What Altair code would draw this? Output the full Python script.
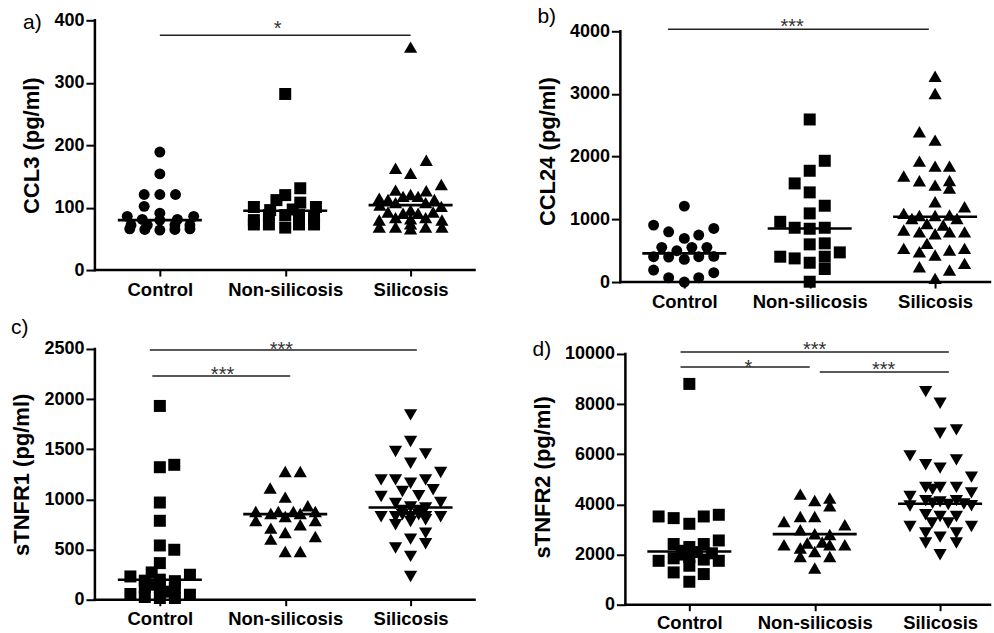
import json
import altair as alt
import pandas as pd

groups = ["Control", "Non-silicosis", "Silicosis"]

# ---------------- Panel a: CCL3 ----------------
a_ctrl_x = [0, 0, -0.125, 0, 0.125, -0.125, 0, -0.26, 0.27, -0.14, 0, 0.14, -0.23, -0.1, 0.12, 0.24, -0.24, -0.12, 0, 0.12, 0.24]
a_ctrl_y = [189, 154, 121, 121, 121, 102, 91, 86, 86, 81, 80, 81, 72, 72, 72, 72, 66, 65, 64, 65, 66]
a_non_x = [0, 0.12, 0, -0.07, 0.12, -0.25, 0.245, -0.12, 0.06, -0.13, 0, 0.11, -0.25, 0.23, -0.25, -0.13, 0, 0.11, 0.23]
a_non_y = [282, 131, 120, 112, 108, 101, 101, 96, 97, 88, 88, 88, 80, 84, 73, 73, 68, 73, 73]
a_sil_x = [0, 0.125, -0.12, 0, 0.245, -0.12, 0.125, 0, -0.06, 0.06, -0.25, -0.18, 0.19, -0.12, 0.12, 0.245, -0.245,
           -0.18, -0.06, 0.06, 0.18, 0, -0.25, -0.12, 0, 0.12, 0.25, -0.25, -0.12, 0, 0.12, 0.25, 0]
a_sil_y = [357, 176, 163, 155, 137, 128, 127, 121, 118, 118, 115, 113, 113, 108, 108, 102, 104,
           93, 91, 91, 93, 96, 80, 84, 82, 84, 80, 69, 69, 66, 69, 69, 74]
a_medians = [80, 95, 104]
a_bar_x1 = [0.0]
a_bar_x2 = [2.0]
a_bar_y = [376]
a_star_x = [0.94]
a_star_y = [395]
a_star_txt = ["*"]

# ---------------- Panel b: CCL24 ----------------
b_ctrl_x = [0, -0.245, 0.235, -0.125, 0.115, 0, -0.18, 0.06, 0.18, -0.06, -0.245, -0.125, 0, 0.115, 0.235, -0.245, 0.235, -0.125, 0.115, 0]
b_ctrl_y = [1211, 908, 855, 802, 749, 696, 553, 553, 553, 499, 404, 398, 361, 404, 409, 191, 149, 69, 69, 0]
b_non_x = [0, 0.12, 0, -0.12, 0, 0.12, 0, -0.235, -0.12, 0, 0.12, 0, 0.12, 0.24, -0.235, -0.12, 0, 0.12, 0.12, 0]
b_non_y = [2593, 1934, 1775, 1573, 1430, 1217, 1095, 961, 866, 850, 866, 601, 617, 473, 404, 377, 308, 404, 208, 5]
b_sil_x = [0, 0, -0.125, 0, -0.125, 0, 0.115, -0.25, -0.125, 0, 0.115, 0.115, 0, 0.235, -0.25, -0.185, -0.125, 0, 0.115,
           0.175, -0.065, 0.065, -0.25, -0.125, 0, 0.115, 0.235, -0.065, -0.25, -0.125, 0, 0.115, 0.235, -0.125, 0.115, 0.235, 0]
b_sil_y = [3284, 3008, 2396, 2264, 1929, 1849, 1849, 1690, 1615, 1546, 1620, 1500, 1280, 1200, 1095, 1015, 1060, 1060, 1070,
           1015, 935, 910, 829, 800, 770, 800, 800, 617, 537, 484, 430, 510, 537, 244, 191, 298, 58]
b_medians = [457, 855, 1041]
b_bar_x1 = [-0.13]
b_bar_x2 = [1.95]
b_bar_y = [4032]
b_star_x = [0.86]
b_star_y = [4160]
b_star_txt = ["***"]

# ---------------- Panel c: sTNFR1 ----------------
c_ctrl_x = [0, 0, 0.115, 0, 0, 0, 0.115, 0, -0.065, -0.235, 0.24, -0.12, 0, 0.12, -0.06, -0.12, 0, 0.12, -0.235, 0.24, -0.12, 0, 0.12, 0.06]
c_ctrl_y = [1932, 1321, 1345, 969, 787, 541, 498, 365, 272, 232, 249, 190, 200, 185, 150, 123, 123, 123, 57, 50, 27, 17, 17, 80]
c_non_x = [0, 0.12, -0.12, 0, 0.18, -0.235, -0.115, -0.055, 0.065, 0.12, 0.24, 0, -0.235, 0.24, 0.12, -0.115, 0, 0.24, -0.115, 0, 0.12]
c_non_y = [1278, 1278, 1113, 1023, 936, 880, 860, 880, 880, 860, 880, 830, 790, 790, 747, 714, 670, 630, 604, 481, 481]
c_sil_x = [0, 0, -0.12, 0.12, 0, 0.24, -0.235, -0.12, 0, 0.12, 0.18, -0.065, 0.065, -0.235, -0.12, 0.24, 0, 0.12,
           -0.235, -0.12, 0, 0.12, 0.24, -0.065, 0.065, -0.12, 0, 0.12, 0.12, 0, 0.12, -0.12, 0, 0, -0.065, 0.065]
c_sil_y = [1843, 1577, 1477, 1454, 1361, 1268, 1195, 1195, 1162, 1195, 1096, 1079, 1036, 1029, 960, 970, 925, 915,
           827, 827, 827, 827, 827, 848, 848, 747, 780, 797, 664, 604, 558, 515, 432, 232, 890, 890]
c_medians = [199, 853, 919]
c_bar_x1 = [-0.08, -0.06]
c_bar_x2 = [2.05, 1.04]
c_bar_y = [2490, 2231]
c_star_x = [0.97, 0.5]
c_star_y = [2547, 2298]
c_star_txt = ["***", "***"]

# ---------------- Panel d: sTNFR2 ----------------
d_ctrl_x = [0, -0.245, -0.125, 0, 0.115, 0.235, 0.235, -0.125, 0, 0.115, -0.06, 0.06, -0.245, -0.125, 0, 0.115, 0.235, -0.06, 0.18, -0.125, 0, 0.115, 0]
d_ctrl_y = [8805, 3519, 3453, 3227, 3519, 3586, 2562, 2420, 2300, 2420, 2150, 2100, 1750, 1850, 1900, 1800, 1750, 2000, 2050, 1288, 1554, 1222, 916]
d_non_x = [-0.115, 0, 0.12, 0.12, -0.245, -0.115, 0, 0.24, -0.115, 0, 0.12, -0.245, 0.24, -0.06, 0.06, -0.115, -0.115, 0, 0.12, 0.12, 0]
d_non_y = [4410, 4155, 4250, 3944, 3319, 3519, 3519, 3187, 2988, 2829, 2800, 2390, 2390, 2458, 2500, 2259, 1924, 2124, 2390, 1924, 1462]
d_sil_x = [-0.115, 0, 0, 0.13, -0.24, -0.115, 0, 0.13, 0.25, -0.115, -0.06, 0, 0.13, 0.25, -0.24, -0.115, -0.06, 0, 0.065,
           0.13, 0.19, 0.25, -0.24, -0.115, 0, 0.13, -0.065, 0.065, -0.24, 0.25, -0.115, 0.13, 0, -0.115, 0.13, 0]
d_sil_y = [8498, 8034, 6839, 6972, 5936, 5578, 5446, 5777, 5088, 4680, 4600, 4680, 4680, 4460, 4316, 4150, 4050, 4100, 4000,
           4150, 4020, 3950, 3940, 3586, 3519, 3519, 3255, 3255, 3120, 3120, 2856, 2856, 2696, 2458, 2458, 1992]
d_medians = [2125, 2816, 4024]
d_bar_x1 = [-0.07, -0.07, 1.04]
d_bar_x2 = [2.07, 0.96, 2.07]
d_bar_y = [10080, 9482, 9283]
d_star_x = [1.0, 0.47, 1.55]
d_star_y = [10386, 9693, 9589]
d_star_txt = ["***", "*", "***"]

FONT = "Liberation Sans"
SIZES = {"circle": 120, "square": 144, "triangle-up": 175, "triangle-down": 175}
LABEL_EXPR = json.dumps(groups) + "[round(datum.value)]"


def make_panel(letter, ytitle, ticks, ymax, ytop_ext, xmin, xline, xmax, width, height,
               series, shapes, medians, bars, stars, label_dx, label_dy, axis_offset=0, xlab_pad=4):
    rows = []
    for gi, ((xs, ys), shp) in enumerate(zip(series, shapes)):
        for xo, v in zip(xs, ys):
            rows.append({"pos": gi + xo, "value": v, "shape": shp, "sz": SIZES[shp]})
    pts = pd.DataFrame(rows)

    xscale = alt.Scale(domain=[xmin, xmax], nice=False, zero=False)
    yscale = alt.Scale(domain=[0, ytop_ext], nice=False, zero=False)
    xaxis = alt.Axis(values=[0, 1, 2], labelExpr=LABEL_EXPR, title=None, grid=False, domain=False,
                     tickSize=6, tickWidth=2, tickColor="black", labelFont=FONT, labelFontSize=18.5,
                     labelFontWeight="bold", labelColor="black", labelPadding=xlab_pad, labelAngle=0,
                     labelFlush=False, labelOverlap=False)
    yaxis = alt.Axis(values=ticks, format="d", title=ytitle, grid=False, domain=False,
                     tickSize=9, tickWidth=2, tickColor="black", labelFont=FONT, labelFontSize=18,
                     labelFontWeight="bold", labelColor="black", labelPadding=2,
                     titleFont=FONT, titleFontSize=22, titleFontWeight="bold", titleColor="black",
                     titlePadding=10, offset=axis_offset, labelFlush=False, labelOverlap=False)

    points = alt.Chart(pts).mark_point(filled=True, opacity=1, color="black", strokeWidth=0).encode(
        x=alt.X("pos:Q", scale=xscale, axis=xaxis),
        y=alt.Y("value:Q", scale=yscale, axis=yaxis),
        shape=alt.Shape("shape:N", scale=None),
        size=alt.Size("sz:Q", scale=None),
    )

    med_df = pd.DataFrame({"pos": [i - 0.335 for i in range(3)],
                           "pos2": [i + 0.335 for i in range(3)],
                           "value": medians})
    med = alt.Chart(med_df).mark_rule(color="black", strokeWidth=2.6).encode(
        x="pos:Q", x2="pos2:Q", y="value:Q")

    bx1, bx2, by = bars
    bar_df = pd.DataFrame({"pos": bx1, "pos2": bx2, "value": by})
    sig = alt.Chart(bar_df).mark_rule(color="#222", strokeWidth=1.4).encode(
        x="pos:Q", x2="pos2:Q", y="value:Q")

    sx, sy, st = stars
    star_df = pd.DataFrame({"pos": sx, "value": sy, "txt": st})
    star = alt.Chart(star_df).mark_text(font=FONT, fontSize=20, color="#333", baseline="alphabetic",
                                        dy=12, align="center").encode(
        x="pos:Q", y="value:Q", text="txt:N")

    ax_df = pd.DataFrame({"pos": [xline, xline], "pos2": [xline, xmax],
                          "value": [0, 0], "value2": [ymax, 0]})
    axes = alt.Chart(ax_df).mark_rule(color="black", strokeWidth=2.5, strokeCap="square").encode(
        x="pos:Q", x2="pos2:Q", y="value:Q", y2="value2:Q")

    lab_df = pd.DataFrame({"pos": [xline], "value": [ymax], "txt": [letter + ")"]})
    lab = alt.Chart(lab_df).mark_text(font=FONT, fontSize=21, color="black", align="left",
                                      baseline="middle", dx=label_dx, dy=label_dy).encode(
        x="pos:Q", y="value:Q", text="txt:N")

    return alt.layer(points, med, sig, star, axes, lab).properties(width=width, height=height)


pa = make_panel("a", "CCL3 (pg/ml)", [0, 100, 200, 300, 400], 400, 400,
                -0.518, -0.518, 2.51, 380, 250,
                [(a_ctrl_x, a_ctrl_y), (a_non_x, a_non_y), (a_sil_x, a_sil_y)],
                ["circle", "square", "triangle-up"], a_medians,
                (a_bar_x1, a_bar_x2, a_bar_y), (a_star_x, a_star_y, a_star_txt), -72, 3)

pb = make_panel("b", "CCL24 (pg/ml)", [0, 1000, 2000, 3000, 4000], 4000, 4175,
                -0.51, -0.51, 2.438, 370, 262,
                [(b_ctrl_x, b_ctrl_y), (b_non_x, b_non_y), (b_sil_x, b_sil_y)],
                ["circle", "square", "triangle-up"], b_medians,
                (b_bar_x1, b_bar_x2, b_bar_y), (b_star_x, b_star_y, b_star_txt), -83, -14)

pc = make_panel("c", "sTNFR1 (pg/ml)", [0, 500, 1000, 1500, 2000, 2500], 2500, 2500,
                -0.518, -0.518, 2.51, 380, 251,
                [(c_ctrl_x, c_ctrl_y), (c_non_x, c_non_y), (c_sil_x, c_sil_y)],
                ["square", "triangle-up", "triangle-down"], c_medians,
                (c_bar_x1, c_bar_x2, c_bar_y), (c_star_x, c_star_y, c_star_txt), -84, -21)

pd_ = make_panel("d", "sTNFR2 (pg/ml)", [0, 2000, 4000, 6000, 8000, 10000], 10000, 10199,
                 -0.55, -0.51, 2.398, 370, 256,
                 [(d_ctrl_x, d_ctrl_y), (d_non_x, d_non_y), (d_sil_x, d_sil_y)],
                 ["square", "triangle-up", "triangle-down"], d_medians,
                 (d_bar_x1, d_bar_x2, d_bar_y), (d_star_x, d_star_y, d_star_txt), -93, -4,
                 axis_offset=-5, xlab_pad=3)

chart = alt.concat(pa, pb, pc, pd_, columns=2, spacing={"row": 67, "column": 146},
                   bounds="flush").properties(
    padding={"left": 10, "top": 5, "right": 2, "bottom": 0},
    background="white",
).configure_view(stroke=None)

chart.save("out.html", embed_options={"renderer": "svg", "actions": False})
